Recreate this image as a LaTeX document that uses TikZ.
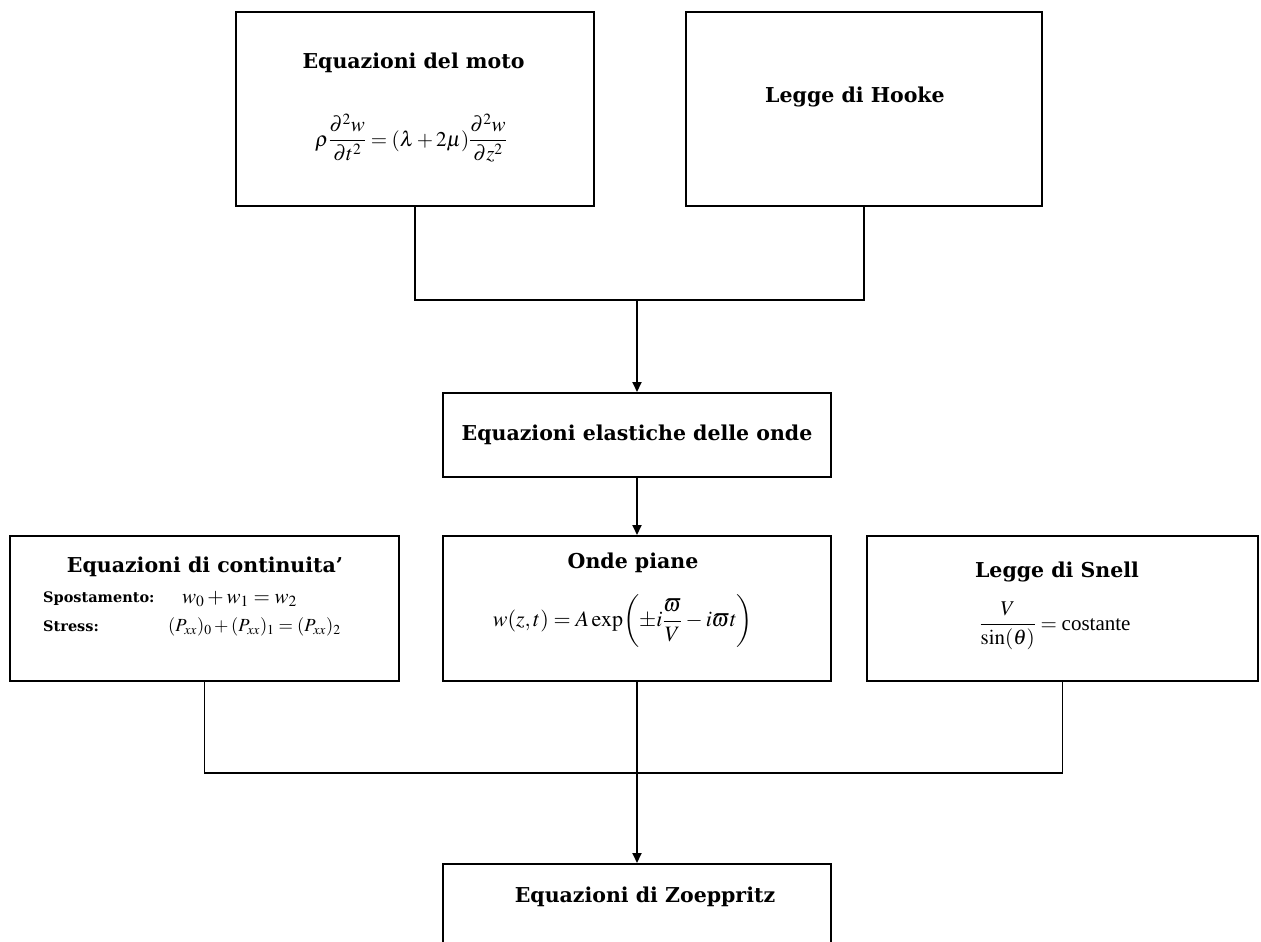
\documentclass[tikz,border=0pt]{standalone}
\usepackage{mathptmx}
\usepackage{fontspec}
\setmainfont{Liberation Serif}
\newfontfamily\titlefont{DejaVu Serif}
\usetikzlibrary{arrows.meta}
\tikzset{
  boxst/.style={draw, line width=2pt, inner sep=0pt},
  conn/.style={line width=1.8pt},
  arr/.style={line width=1.8pt, -{Triangle[length=10pt,width=9pt]}},
  ttl/.style={font=\titlefont\bfseries\fontsize{20.5}{24}\selectfont, inner sep=0pt},
  lbl/.style={font=\titlefont\bfseries\fontsize{14.5}{17}\selectfont, inner sep=0pt, anchor=west},
  mth/.style={font=\fontsize{21}{25}\selectfont, inner sep=0pt},
}
\begin{document}
\begin{tikzpicture}[x=1pt,y=-1pt]
\useasboundingbox (0,0) rectangle (1261,942);
\fill[white] (0,0) rectangle (1261,942);

% boxes
\node[boxst, minimum width=358pt, minimum height=194pt] (b1) at (415,109) {};
\node[boxst, minimum width=356pt, minimum height=194pt] (b2) at (864,109) {};
\node[boxst, minimum width=388pt, minimum height=84pt] (b3) at (637,435) {};
\node[boxst, minimum width=389pt, minimum height=145pt] (b4) at (204.5,608.5) {};
\node[boxst, minimum width=388pt, minimum height=145pt] (b5) at (637,608.5) {};
\node[boxst, minimum width=391pt, minimum height=145pt] (b6) at (1062.5,608.5) {};
\begin{scope}
  \clip (0,0) rectangle (1261,942);
  \node[boxst, minimum width=388pt, minimum height=92pt] (b7) at (637,910) {};
\end{scope}

% texts
\node[ttl] (t1) at (413.5,63) {Equazioni del moto};
\node[mth] (f1) at (411,138) {$\displaystyle \rho\frac{\partial^2 w}{\partial t^2}=(\lambda+2\mu)\frac{\partial^2 w}{\partial z^2}$};
\node[ttl] (t2) at (855,97) {Legge di Hooke};
\node[ttl] (t3) at (637,435) {Equazioni elastiche delle onde};
\node[ttl] (t4) at (205,567) {Equazioni di continuita’};
\node[lbl] (l4a) at (43,599) {Spostamento:};
\node[lbl] (l4b) at (43,626) {Stress:};
\node[mth, anchor=west, font=\fontsize{21}{25}\selectfont] (m4a) at (182,599) {$w_0+w_1=w_2$};
\node[mth, anchor=west, font=\fontsize{18.5}{22}\selectfont] (m4b) at (168,627) {$(P_{xx})_0+(P_{xx})_1=(P_{xx})_2$};
\node[ttl] (t5) at (633,563) {Onde piane};
\node[mth, font=\fontsize{22}{26}\selectfont] (f5) at (623,621) {$\displaystyle w(z,t)= A\exp\biggl(\pm i\frac{\varpi}{V}-i\varpi t\biggr)$};
\node[ttl] (t6) at (1057,572) {Legge di Snell};
\node[mth] (f6) at (1055,626) {$\displaystyle \frac{V}{\sin(\theta)}=\mbox{costante}$};
\node[ttl] (t7) at (645,897) {Equazioni di Zoeppritz};

% connectors
\coordinate (j1) at (637,300);
\draw[conn] (b1.south) -- (b1.south |- j1) -- (b2.south |- j1) -- (b2.south);
\draw[arr] (b3.north |- j1) -- (b3.north);
\draw[arr] (b3.south) -- (b5.north);
\coordinate (j2) at (637,773);
\draw[conn] (b4.south) -- (b4.south |- j2) -- (b6.south |- j2) -- (b6.south);
\draw[arr] (b5.south) -- (b7.north);
\end{tikzpicture}
\end{document}
